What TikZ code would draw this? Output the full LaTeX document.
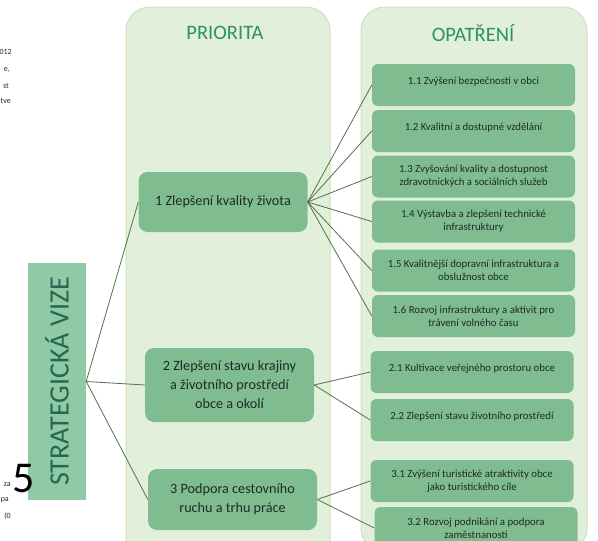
\documentclass[tikz,border=0pt]{standalone}
\usepackage{fontspec}
\setmainfont{Carlito}
\usepackage{tikz}
\usetikzlibrary{arrows,calc,shapes}
\tikzset{>=latex}
\definecolor{panelgreen}{RGB}{226,239,218}
\definecolor{panelline}{RGB}{204,228,190}
\definecolor{boxgreen}{RGB}{127,189,144}
\definecolor{visiongreen}{RGB}{143,201,166}
\definecolor{titlegreen}{RGB}{42,148,100}
\definecolor{visiontext}{RGB}{36,104,78}
\definecolor{boxtext}{RGB}{28,44,34}
\definecolor{linkgreen}{RGB}{88,112,72}
\tikzset{
  panel/.style={draw=panelline, fill=panelgreen, line width=1pt, rounded corners=24pt},
  prio/.style={fill=boxgreen, rounded corners=9pt, align=center, text=boxtext, font=\fontsize{14.2}{19}\selectfont, minimum width=169pt, inner sep=2pt},
  opat/.style={fill=boxgreen, rounded corners=6pt, align=center, text=boxtext, font=\fontsize{10.8}{13}\selectfont, minimum width=203pt, minimum height=42pt, inner sep=2pt},
  oneline/.style={text depth=8pt},
  link/.style={draw=linkgreen, line width=0.8pt},
  stray/.style={anchor=east, font=\fontsize{8}{9}\selectfont, text=black!85, inner sep=0pt}
}

\begin{document}
\begin{tikzpicture}[x=1pt, y=-1pt]
    \useasboundingbox (0,0) rectangle (598,541);
    \clip (0,0) rectangle (598,541);
    \fill [white] (0,0) rectangle (598,541);

    % columns
    \draw [panel] (126,7) rectangle (330,575);
    \draw [panel] (361,7) rectangle (587,552);
    \node at (225,33) [text=titlegreen, font=\fontsize{20.5}{22}\selectfont](T1){PRIORITA};
    \node at (473,33) [text=titlegreen, font=\fontsize{20.5}{22}\selectfont](T2){OPATŘENÍ};

    % vision
    \node at (57,381.5) [fill=visiongreen, minimum width=58pt, minimum height=237pt](V){};
    \node at (V.center) [rotate=90, text=visiontext, font=\fontsize{28}{30}\selectfont]{STRATEGICKÁ VIZE};

    % priorities
    \node at (223,202) [prio, minimum height=60pt](P1){1 Zlepšení kvality života};
    \node at (229.5,385) [prio, minimum height=74pt](P2){2 Zlepšení stavu krajiny\\a životního prostředí\\obce a okolí};
    \node at (232.5,499.5) [prio, minimum height=61pt](P3){3 Podpora cestovního\\ruchu a trhu práce};

    % measures
    \node at (473.5,85) [opat, oneline](O11){1.1 Zvýšení bezpečnosti v obci};
    \node at (473.5,131) [opat, oneline](O12){1.2 Kvalitní a dostupné vzdělání};
    \node at (473.5,176.5) [opat](O13){1.3 Zvyšování kvality a dostupnost\\zdravotnických a sociálních služeb};
    \node at (473.5,221.5) [opat](O14){1.4 Výstavba a zlepšení technické\\infrastruktury};
    \node at (473.5,270.5) [opat](O15){1.5 Kvalitnější dopravní infrastruktura a\\obslužnost obce};
    \node at (473.5,316) [opat](O16){1.6 Rozvoj infrastruktury a aktivit pro\\trávení volného času};
    \node at (472,372) [opat, oneline](O21){2.1 Kultivace veřejného prostoru obce};
    \node at (472,420) [opat, oneline](O22){2.2 Zlepšení stavu životního prostředí};
    \node at (472,481) [opat](O31){3.1 Zvýšení turistické atraktivity obce\\jako turistického cíle};
    \node at (476,528) [opat](O32){3.2 Rozvoj podnikání a podpora\\zaměstnanosti};

    % links
    \foreach \x in {1,2,3}
    \draw [link] (V.east) -- (P\x.west);
    \foreach \x in {1,...,6}
    \draw [link] (P1.east) -- (O1\x.west);
    \foreach \x in {1,2}
    \draw [link] (P2.east) -- (O2\x.west);
    \foreach \x in {1,2}
    \draw [link] (P3.east) -- (O3\x.west);

    % cut text at the left margin
    \node at (12,52) [stray](s1){012};
    \node at (10,70) [stray](s2){e,};
    \node at (9,86) [stray](s3){st};
    \node at (11,101) [stray](s4){tve};
    \node at (11,485) [stray](s5){za};
    \node at (9,500) [stray](s6){pa};
    \node at (11,516) [stray](s7){(0};
    \node at (12,479) [anchor=west, inner sep=0pt, font=\fontsize{44}{44}\selectfont](s8){5};
\end{tikzpicture}
\end{document}
